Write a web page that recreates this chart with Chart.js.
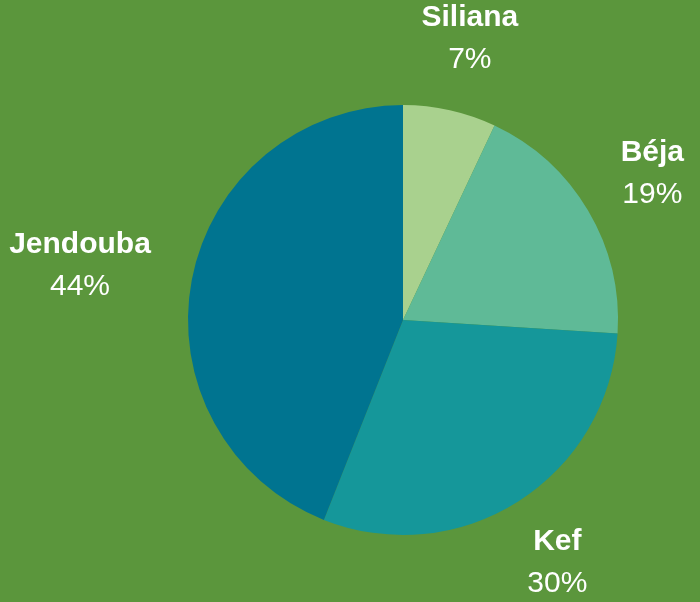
<!DOCTYPE html>
<html>
<head>
<meta charset="utf-8">
<script src="https://cdn.jsdelivr.net/npm/chart.js@4"></script>
<style>
    html, body { margin: 0; padding: 0; background: #5b963c; }
    #wrap { width: 700px; height: 602px; }
</style>
</head>
<body>
<div id="wrap"><canvas id="pie-chart"></canvas></div>
<script>
const regions = [ 'Siliana', 'Béja', 'Kef', 'Jendouba' ];
const shares = [ 7, 19, 30, 44 ];
const sliceColors = [ '#a9d18e', '#5fba97', '#15979a', '#007490' ];

// labels outside the pie: bold name over percentage
const outsideLabels = {
    id: 'outsideLabels',
    afterDatasetsDraw( chart ) {
        const ctx = chart.ctx;
        const meta = chart.getDatasetMeta( 0 );
        const boldFont = 'bold 30px "Liberation Sans", Arial, sans-serif';
        const normFont = '30px "Liberation Sans", Arial, sans-serif';
        ctx.save();
        ctx.fillStyle = '#ffffff';
        ctx.textAlign = 'center';
        ctx.textBaseline = 'middle';
        meta.data.forEach( function ( arc, i ) {
            const mid = ( arc.startAngle + arc.endAngle ) / 2;
            const ux = Math.cos( mid ), uy = Math.sin( mid );
            ctx.font = boldFont;
            const w1 = ctx.measureText( regions[ i ] ).width;
            ctx.font = normFont;
            const pct = shares[ i ] + '%';
            const w2 = ctx.measureText( pct ).width;
            const halfW = Math.max( w1, w2 ) / 2, halfH = 30;
            const r = arc.outerRadius + 43;
            const cx = arc.x + ux * ( r + halfW );
            const cy = arc.y + uy * ( r + halfH );
            ctx.font = boldFont;
            ctx.fillText( regions[ i ], cx, cy - 21 );
            ctx.font = normFont;
            ctx.fillText( pct, cx, cy + 21 );
        });
        ctx.restore();
    }
};

window.addEventListener( 'load', function () {
    const el = document.querySelector( '#pie-chart' );
    new Chart( el, {
        type: 'pie',
        data: {
            labels: regions,
            datasets: [ {
                data: shares,
                backgroundColor: sliceColors,
                borderWidth: 0
            } ]
        },
        options: {
            responsive: true,
            maintainAspectRatio: false,
            animation: false,
            layout: { padding: { left: 188, right: 82, top: 105, bottom: 67 } },
            plugins: {
                legend: { display: false },
                tooltip: { enabled: false }
            }
        },
        plugins: [ outsideLabels ]
    });
}, false );
</script>
</body>
</html>
